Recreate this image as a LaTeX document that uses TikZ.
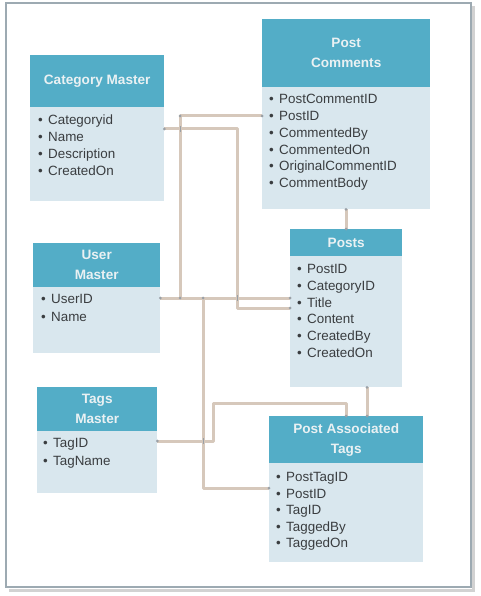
\documentclass[tikz,border=0pt]{standalone}
\usepackage{fontspec}
\setmainfont{Liberation Sans}
\definecolor{headblue}{HTML}{53ADC7}
\definecolor{bodyblue}{HTML}{D9E7EE}
\definecolor{itemtext}{HTML}{3A3D40}
\definecolor{headtext}{HTML}{EAF1F3}
\definecolor{wirecol}{HTML}{D6C8BB}
\definecolor{markc}{HTML}{9AA0A6}
\definecolor{framec}{HTML}{9DAAB2}
\begin{document}
\begin{tikzpicture}[x=1pt,y=-1pt,
  bodybox/.style={fill=bodyblue, draw=none, inner sep=0, anchor=north west},
  headbox/.style={fill=headblue, draw=none, inner sep=0, anchor=north west, align=center,
     text=headtext, font=\fontsize{13.6}{20}\selectfont\bfseries},
  item/.style={anchor=base west, yshift=-4.8pt, inner sep=0, text=itemtext, font=\fontsize{13.4}{16}\selectfont},
  wireline/.style={color=wirecol, line width=3pt, line join=round},
  endmark/.style={circle, fill=markc, inner sep=0, minimum size=3pt},
  tickmark/.style={draw=markc, line width=0.8pt}
]
\useasboundingbox (0,0) rectangle (480,596);
% frame with shadow
\draw[line width=3pt, draw=gray!35] (9,590) -- (473,590) -- (473,6);
\draw[line width=1.3pt, draw=framec, fill=white] (6,3) rectangle (471,587);

\newcommand{\bul}[1]{\llap{\textbullet\hspace{5.5pt}}#1}

% Category Master
\node[bodybox, minimum width=134pt, minimum height=146pt] (cm) at (30,55) {};
\node[headbox, minimum width=134pt, minimum height=52pt] (cmh) at (30,55) {Category Master};
\node[item] (cm1) at (48,120) {\bul{Categoryid}};
\node[item] (cm2) at (48,137) {\bul{Name}};
\node[item] (cm3) at (48,154) {\bul{Description}};
\node[item] (cm4) at (48,171) {\bul{CreatedOn}};

% Post Comments
\node[bodybox, minimum width=168pt, minimum height=190pt] (pc) at (262,19) {};
\node[headbox, minimum width=168pt, minimum height=68pt] (pch) at (262,19) {Post\\Comments};
\node[item] (pc1) at (279,99) {\bul{PostCommentID}};
\node[item] (pc2) at (279,116) {\bul{PostID}};
\node[item] (pc3) at (279,133) {\bul{CommentedBy}};
\node[item] (pc4) at (279,150) {\bul{CommentedOn}};
\node[item] (pc5) at (279,166) {\bul{OriginalCommentID}};
\node[item] (pc6) at (279,183) {\bul{CommentBody}};

% User Master
\node[bodybox, minimum width=127pt, minimum height=110pt] (um) at (33,243) {};
\node[headbox, minimum width=127pt, minimum height=44pt] (umh) at (33,243) {User\\Master};
\node[item] (um1) at (51,299) {\bul{UserID}};
\node[item] (um2) at (51,317) {\bul{Name}};

% Posts
\node[bodybox, minimum width=112pt, minimum height=158pt] (po) at (290,229) {};
\node[headbox, minimum width=112pt, minimum height=27pt] (poh) at (290,229) {Posts};
\node[item] (po1) at (307,269) {\bul{PostID}};
\node[item] (po2) at (307,286) {\bul{CategoryID}};
\node[item] (po3) at (307,303) {\bul{Title}};
\node[item] (po4) at (307,319) {\bul{Content}};
\node[item] (po5) at (307,336) {\bul{CreatedBy}};
\node[item] (po6) at (307,353) {\bul{CreatedOn}};

% Tags Master
\node[bodybox, minimum width=120pt, minimum height=106pt] (tm) at (37,387) {};
\node[headbox, minimum width=120pt, minimum height=44pt] (tmh) at (37,387) {Tags\\Master};
\node[item] (tm1) at (53,443) {\bul{TagID}};
\node[item] (tm2) at (53,461) {\bul{TagName}};

% Post Associated Tags
\node[bodybox, minimum width=154pt, minimum height=146pt] (pat) at (269,416) {};
\node[headbox, minimum width=154pt, minimum height=47pt] (path) at (269,416) {Post Associated\\Tags};
\node[item] (pat1) at (286,477) {\bul{PostTagID}};
\node[item] (pat2) at (286,494) {\bul{PostID}};
\node[item] (pat3) at (286,510) {\bul{TagID}};
\node[item] (pat4) at (286,527) {\bul{TaggedBy}};
\node[item] (pat5) at (286,543) {\bul{TaggedOn}};

% junction coordinates
\coordinate (jc1) at (237,129);
\coordinate (jc2) at (237,308);
\coordinate (ju1) at (180,298);
\coordinate (ju2) at (180,116);
\coordinate (ju3) at (203,298);
\coordinate (ju4) at (203,488);
\coordinate (jt1) at (213,441);
\coordinate (jt2) at (213,403);
\coordinate (jt3) at (346,403);

% connectors
\draw[wireline] (pc.south -| jt3) -- (poh.north -| jt3);
\draw[wireline] (po.south -| 367,0) -- (path.north -| 367,0);
\draw[wireline] (cm.east |- jc1) -- (jc1) -- (jc2) -- (po.west |- jc2);
\draw[wireline] (um.east |- ju1) -- (po.west |- ju1);
\draw[wireline] (ju1) -- (ju2) -- (pc.west |- ju2);
\draw[wireline] (ju3) -- (ju4) -- (pat.west |- ju4);
\draw[wireline] (tm.east |- jt1) -- (jt1) -- (jt2) -- (jt3) -- (path.north -| jt3);

% end markers
\foreach \p in {(pc.south -| jt3), (poh.north -| jt3), (po.south -| 367,0), (path.north -| 367,0),
  (cm.east |- jc1), (po.west |- jc2), (um.east |- ju1), (po.west |- ju1), (pc.west |- ju2),
  (pat.west |- ju4), (tm.east |- jt1), (path.north -| jt3), (ju1), (ju3), (ju2)}
  \node[endmark] at \p {};
% crossing ticks
\draw[tickmark] (237,295) -- (237,301);
\draw[tickmark] (203,438) -- (203,444);
\draw[tickmark] (180,126) -- (180,132);
\end{tikzpicture}
\end{document}
